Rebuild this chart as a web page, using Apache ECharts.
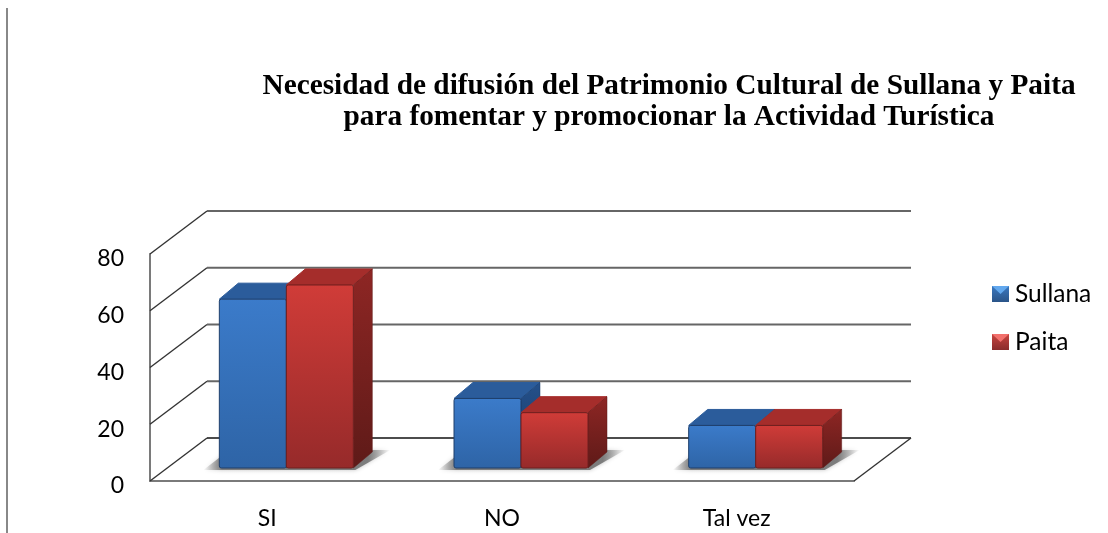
<!DOCTYPE html>
<html>
<head>
<meta charset="utf-8">
<style>
  html, body { margin: 0; padding: 0; background: #fff; }
  #chart { width: 1108px; height: 533px; }
</style>
<script src="https://cdn.jsdelivr.net/npm/echarts@6/dist/echarts.min.js"></script>
</head>
<body>
<div id="chart"></div>
<script>
const categories = ['SI', 'NO', 'Tal vez']
const sullana = [59.5, 24.5, 15]
const paita = [64.5, 19.5, 15]
const yTicks = [0, 20, 40, 60, 80]

const chart = echarts.init(document.getElementById('chart'), null, { renderer: 'canvas' })

// fake 3d: floor depth and where the bars sit on it
const WALL_DX = 57
const WALL_DY = -43
const BAR_DX = 19
const BAR_DY = -13
const SIDE_DX = 19
const SIDE_DY = -16
const BAR_WIDTH = 67

const vGrad = (top, bottom) => new echarts.graphic.LinearGradient(0, 0, 0, 1, [
  { offset: 0, color: top },
  { offset: 1, color: bottom }
])

const blue = { front: ['#3b7bca', '#2e64a6'], top: '#2b5c9b', side: ['#24508a', '#193a66'], edge: '#1f3f6b' }
const red = { front: ['#d03c38', '#962a2a'], top: '#a52d2b', side: ['#8e2624', '#5e1a18'], edge: '#6e1f1e' }

// gridlines on the side and back walls
const renderWalls = (params, api) => {
  const v = api.value(1)
  const left = api.coord([0, v])
  const right = api.coord([categories.length - 1, v])
  const band = api.size([1, 0])[0]
  const x0 = left[0] - band / 2
  const x1 = right[0] + band / 2
  const y = left[1]
  const children = [
    { type: 'line', shape: { x1: x0, y1: y, x2: x0 + WALL_DX, y2: y + WALL_DY }, style: { stroke: '#333', lineWidth: 1.4 } },
    {
      type: 'line',
      shape: { x1: x0 + WALL_DX, y1: y + WALL_DY, x2: x1 + WALL_DX, y2: y + WALL_DY },
      style: { stroke: v === 0 ? '#111' : '#666', lineWidth: v === 0 ? 1.5 : 2 }
    }
  ]
  if (v === 0) {
    children.push({ type: 'line', shape: { x1, y1: y, x2: x1 + WALL_DX, y2: y + WALL_DY }, style: { stroke: '#333', lineWidth: 1.4 } })
  }
  return { type: 'group', children }
}

const makeBarRenderer = (colors, slot) => (params, api) => {
  const idx = api.value(0)
  const base = api.coord([idx, 0])
  const top = api.coord([idx, api.value(1)])
  const x0 = base[0] + BAR_DX + slot * BAR_WIDTH
  const x1 = x0 + BAR_WIDTH
  const yb = base[1] + BAR_DY
  const yt = top[1] + BAR_DY
  return {
    type: 'group',
    children: [
      { type: 'polygon', shape: { points: [[x0, yt], [x0 + SIDE_DX, yt + SIDE_DY], [x1 + SIDE_DX, yt + SIDE_DY], [x1, yt]] }, style: { fill: colors.top, stroke: colors.top, lineWidth: 1 } },
      { type: 'polygon', shape: { points: [[x1, yt], [x1 + SIDE_DX, yt + SIDE_DY], [x1 + SIDE_DX, yb + SIDE_DY], [x1, yb]] }, style: { fill: vGrad(colors.side[0], colors.side[1]), stroke: colors.side[1], lineWidth: 0.5 } },
      { type: 'rect', shape: { x: x0, y: yt, width: BAR_WIDTH, height: yb - yt, r: 2 }, style: { fill: vGrad(colors.front[0], colors.front[1]), stroke: colors.edge, lineWidth: 1 } }
    ]
  }
}

// soft shadow lying on the floor, one per category
const renderShadow = (params, api) => {
  const idx = api.value(0)
  const base = api.coord([idx, 0])
  const x0 = base[0] + BAR_DX - BAR_WIDTH
  const x1 = x0 + 2 * BAR_WIDTH
  const yb = base[1] + BAR_DY + 2
  return {
    type: 'polygon',
    shape: { points: [[x0 - 16, yb], [x1 + 2, yb], [x1 + 37, yb - 20], [x0 + 10, yb - 20]] },
    style: {
      fill: new echarts.graphic.LinearGradient(0, 0, 1, 0, [
        { offset: 0, color: 'rgba(130,130,130,0)' },
        { offset: 0.1, color: 'rgba(120,120,120,0.95)' },
        { offset: 0.88, color: 'rgba(120,120,120,0.95)' },
        { offset: 1, color: 'rgba(130,130,130,0)' }
      ]),
      shadowBlur: 4,
      shadowColor: 'rgba(130,130,130,0.5)'
    }
  }
}

const option = {
  animation: false,
  backgroundColor: '#fff',
  title: {
    text: 'Necesidad de difusión del Patrimonio Cultural de Sullana y Paita\npara fomentar y promocionar la Actividad Turística',
    left: 664,
    top: 66,
    textAlign: 'center',
    textStyle: {
      fontFamily: '"Liberation Serif"',
      fontWeight: 'bold',
      fontSize: 29.3,
      lineHeight: 31,
      color: '#000'
    }
  },
  legend: {
    orient: 'vertical',
    left: 992,
    top: 278,
    padding: 0,
    itemWidth: 17,
    itemHeight: 16,
    itemGap: 16,
    selectedMode: false,
    textStyle: { fontFamily: 'Lato', fontSize: 24.5, lineHeight: 28, color: '#000', padding: [4, 0, 0, 1] },
    data: [
      { name: 'Sullana', icon: 'rect', itemStyle: { color: vGrad('#3a78c0', '#2a5488') } },
      { name: 'Paita', icon: 'rect', itemStyle: { color: vGrad('#c84540', '#8a2c2c') } }
    ]
  },
  grid: { left: 150, top: 254, width: 704, height: 227 },
  xAxis: {
    type: 'category',
    data: categories,
    axisTick: { show: false },
    axisLine: { lineStyle: { color: '#7a7a7a', width: 2 } },
    axisLabel: { fontFamily: 'Lato', fontSize: 23, color: '#000', margin: 26 }
  },
  yAxis: {
    type: 'value',
    min: 0,
    max: 80,
    interval: 20,
    splitLine: { show: false },
    axisTick: { show: false },
    axisLine: { show: true, lineStyle: { color: '#7a7a7a', width: 2 } },
    axisLabel: { fontFamily: 'Lato', fontSize: 23, color: '#000', margin: 26, verticalAlign: 'top', lineHeight: 10 }
  },
  graphic: [
    // page edge in the scanned document
    { type: 'line', shape: { x1: 7, y1: 8, x2: 7, y2: 533 }, style: { stroke: '#888', lineWidth: 2 }, z: 10 },
    // bevel on the legend swatches
    { type: 'polygon', shape: { points: [[992, 286], [1009, 286], [1000.5, 294]] }, style: { fill: '#62a8ee' }, z: 10 },
    { type: 'polygon', shape: { points: [[992, 334], [1009, 334], [1000.5, 342]] }, style: { fill: '#f2706c' }, z: 10 }
  ],
  series: [
    {
      type: 'custom',
      silent: true,
      renderItem: renderWalls,
      z: 1,
      data: yTicks.map(v => [0, v])
    },
    {
      type: 'custom',
      silent: true,
      renderItem: renderShadow,
      z: 2,
      data: categories.map((c, i) => [i, 0])
    },
    {
      name: 'Sullana',
      type: 'custom',
      renderItem: makeBarRenderer(blue, -1),
      z: 3,
      encode: { x: 0, y: 1 },
      data: sullana.map((v, i) => [i, v])
    },
    {
      name: 'Paita',
      type: 'custom',
      renderItem: makeBarRenderer(red, 0),
      z: 4,
      encode: { x: 0, y: 1 },
      data: paita.map((v, i) => [i, v])
    }
  ]
}

chart.setOption(option)
</script>
</body>
</html>
